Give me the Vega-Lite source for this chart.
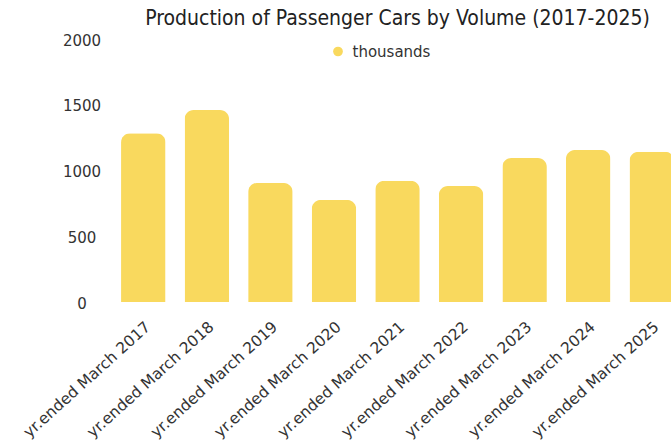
{
  "$schema": "https://vega.github.io/schema/vega-lite/v6.json",
  "autosize": {"type": "none"},
  "width": 572,
  "height": 263,
  "padding": {"left": 111.5, "top": 39, "right": 20, "bottom": 150},
  "background": "white",
  "config": {"view": {"stroke": null}},
  "title": {
    "text": "Production of Passenger Cars by Volume (2017-2025)",
    "font": "DejaVu Sans Condensed",
    "fontSize": 21,
    "fontWeight": "normal",
    "color": "#222222",
    "anchor": "middle",
    "offset": 4
  },
  "data": {
    "values": [
      {"year": "yr.ended March 2017", "series": "thousands", "value": 1283},
      {"year": "yr.ended March 2018", "series": "thousands", "value": 1460},
      {"year": "yr.ended March 2019", "series": "thousands", "value": 905},
      {"year": "yr.ended March 2020", "series": "thousands", "value": 776},
      {"year": "yr.ended March 2021", "series": "thousands", "value": 922},
      {"year": "yr.ended March 2022", "series": "thousands", "value": 882},
      {"year": "yr.ended March 2023", "series": "thousands", "value": 1095},
      {"year": "yr.ended March 2024", "series": "thousands", "value": 1156},
      {"year": "yr.ended March 2025", "series": "thousands", "value": 1143}
    ]
  },
  "mark": {"type": "bar", "cornerRadiusTopLeft": 9, "cornerRadiusTopRight": 9},
  "encoding": {
    "x": {
      "field": "year",
      "type": "nominal",
      "sort": null,
      "scale": {"paddingInner": 0.3, "paddingOuter": 0.15},
      "axis": {
        "title": null,
        "labelAngle": -42,
        "labelFont": "DejaVu Sans",
        "labelFontSize": 15.5,
        "labelColor": "#333333",
        "labelPadding": 17,
        "domain": false,
        "ticks": false,
        "grid": false
      }
    },
    "y": {
      "field": "value",
      "type": "quantitative",
      "scale": {"domain": [0, 2000]},
      "axis": {
        "title": null,
        "values": [0, 500, 1000, 1500, 2000],
        "format": "d",
        "labelFont": "DejaVu Sans",
        "labelFontSize": 15,
        "labelColor": "#333333",
        "labelAlign": "center",
        "labelPadding": 30,
        "labelOffset": 1,
        "domain": false,
        "ticks": false,
        "grid": false
      }
    },
    "color": {
      "field": "series",
      "type": "nominal",
      "scale": {"range": ["#F9D95E"]},
      "legend": {
        "title": null,
        "orient": "none",
        "legendX": 219,
        "legendY": 5,
        "padding": 0,
        "symbolType": "circle",
        "symbolSize": 95,
        "labelFont": "DejaVu Sans",
        "labelFontSize": 15,
        "labelColor": "#333333",
        "labelOffset": 7
      }
    }
  }
}
